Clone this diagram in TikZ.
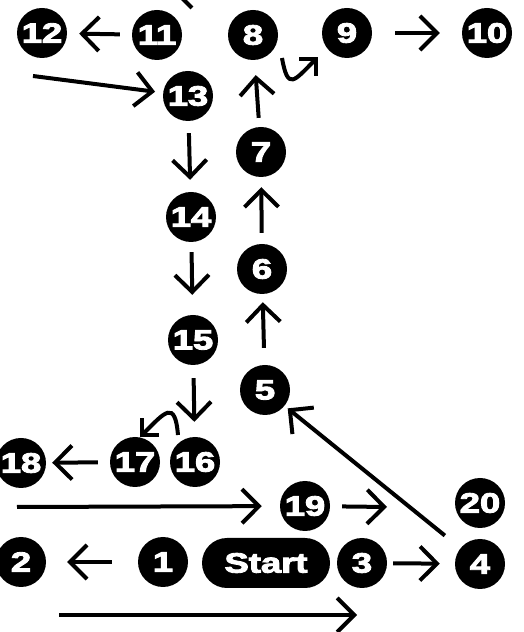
\documentclass[tikz,border=0pt]{standalone}
\usepackage{fontspec}
\setmainfont{Liberation Sans}
\newfontfamily\numfont{Liberation Sans}[UprightFont=*-Bold, FakeBold=3]
\usepackage{graphicx}
\usetikzlibrary{arrows.meta,calc}
\newcommand{\wide}[1]{\scalebox{1.3}[1]{#1}}

\begin{document}
\begin{tikzpicture}
  [x=1pt,y=1pt,
  num/.style={circle, fill=black, text=white, minimum size=50pt,
    inner sep=0pt, font=\numfont\fontsize{28}{28}\selectfont},
  pill/.style={rectangle, rounded corners=25pt, fill=black, text=white,
    minimum width=128pt, minimum height=50pt, inner sep=0pt,
    font=\numfont\fontsize{28}{28}\selectfont},
  line/.style={draw, line width=4pt, shorten <=12pt, shorten >=12pt,
    -{Straight Barb[length=17pt,width=34pt]}},
  hook/.style={draw, line width=4pt,
    -{Straight Barb[length=12pt,width=24pt]}}]
  \useasboundingbox (0,0) rectangle (523,632);
  % top row
  \node[num] (n12) at (42,599) {\wide{12}};
  \node[num] (n11) at (157,597) {\wide{11}};
  \node[num] (n8) at (253,597) {\wide{8}};
  \node[num] (n9) at (347,599) {\wide{9}};
  \node[num] (n10) at (487,599) {\wide{10}};
  % two columns
  \node[num] (n13) at (188,536) {\wide{13}};
  \node[num] (n14) at (191,415) {\wide{14}};
  \node[num] (n15) at (193,292) {\wide{15}};
  \node[num] (n16) at (195,170) {\wide{16}};
  \node[num] (n7) at (261,480) {\wide{7}};
  \node[num] (n6) at (262,363) {\wide{6}};
  \node[num] (n5) at (265,242) {\wide{5}};
  \node[num] (n17) at (135,170) {\wide{17}};
  \node[num] (n18) at (21,169) {\wide{18}};
  % bottom rows
  \node[num] (n19) at (305,126) {\wide{19}};
  \node[num] (n20) at (480,129) {\wide{20}};
  \node[pill] (start) at (266,69) {\wide{Start}};
  \node[num] (n3) at (362,69) {\wide{3}};
  \node[num] (n4) at (480,68) {\wide{4}};
  \node[num] (n1) at (163,70) {\wide{1}};
  \node[num] (n2) at (21,70) {\wide{2}};
  % free ends
  \coordinate (c12) at (33,556);
  \coordinate (c18) at (17,125);
  \coordinate (c19) at (387,125);
  \coordinate (cl) at (59,17);
  \coordinate (cr) at (357,17);
  \coordinate (t1) at (180,636);
  \coordinate (t2) at (192,624);
  \begin{scope}[every path/.style=line]
    \path (n11) -- (n12);
    \path[shorten <=0pt, shorten >=8pt] (c12) -- (n13);
    \path (n13) -- (n14);
    \path[shorten <=10pt, shorten >=20pt] (n14) -- (n15);
    \path[shorten <=13pt, shorten >=15pt] (n15) -- (n16);
    \path[shorten >=6pt] (n17) -- (n18);
    \path[shorten <=0pt, shorten >=18pt] (c18) -- (n19);
    \path[shorten >=0pt] (n19) -- (c19);
    \path[shorten <=26pt, shorten >=21pt] (n1) -- (n2);
    \path[shorten <=6pt, shorten >=15pt] (n3) -- (n4);
    \path[shorten <=0pt, shorten >=0pt] (cl) -- (cr);
    \path[shorten <=20pt, shorten >=4pt] (n4) -- (n5);
    \path[shorten <=17pt, shorten >=8pt] (n5) -- (n6);
    \path[shorten <=11pt, shorten >=10pt] (n6) -- (n7);
    \path[shorten <=9pt, shorten >=15pt] (n7) -- (n8);
    \path[shorten <=23pt, shorten >=22pt] (n9) -- (n10);
  \end{scope}
  \path[hook] ($(n8)+(29,-23)$) to[out=-80,in=-135,looseness=2.4]
    ($(n9)+(-29,-24)$);
  \path[hook] ($(n16)+(-17,27)$) to[out=95,in=45,looseness=2.4]
    ($(n17)+(5,25)$);
  \draw[line width=4pt] (t1) -- (t2);
\end{tikzpicture}
\end{document}
